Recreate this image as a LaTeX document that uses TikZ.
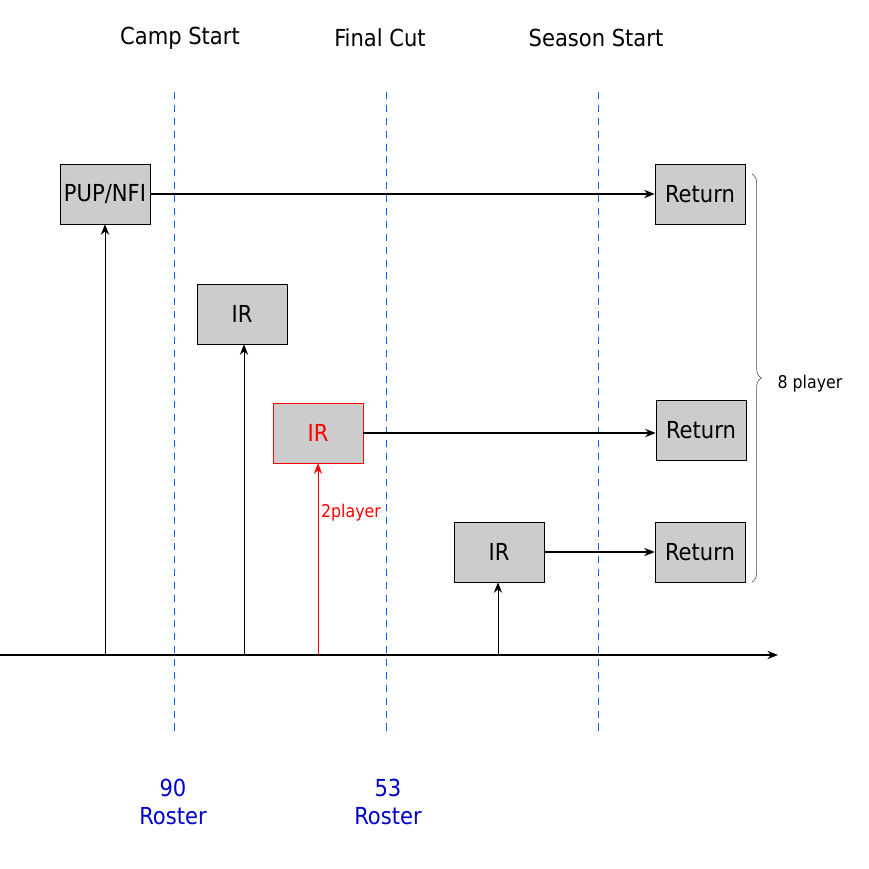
\documentclass[tikz,border=0pt]{standalone}
\usepackage{fontspec}
\setmainfont{DejaVu Sans Condensed}
\usetikzlibrary{arrows.meta,decorations.pathreplacing}
\begin{document}
\begin{tikzpicture}[x=0.03cm,y=-0.03cm,
  box/.style={draw,fill=black!20,minimum width=2.7cm,minimum height=1.8cm,inner sep=0pt,font=\fontsize{20}{22}\selectfont},
  bluedash/.style={draw=blue!60!cyan,line width=0.8pt,dash pattern=on 6pt off 5pt},
  arr/.style={-{Stealth[length=9pt,width=7pt]},line width=1pt},
  lbl/.style={font=\fontsize{20}{22}\selectfont},
  blab/.style={font=\fontsize{20}{24}\selectfont,text=blue!80!black,align=center}]
\useasboundingbox (0,0) rectangle (869,869);
\foreach \x in {174,386,598} \draw[bluedash] (\x,92) -- (\x,735);
\node[lbl] (t1) at (180,38) {Camp Start};
\node[lbl] (t2) at (380,38) {Final Cut};
\node[lbl] (t3) at (596,38) {Season Start};
\coordinate (a0) at (0,655); \coordinate (a1) at (778,655);
\draw[arr,line width=1.4pt] (a0) -- (a1);
\node[box] (pup) at (105,194) {PUP/NFI};
\node[box] (r1) at (700,194) {Return};
\node[box] (ir1) at (242,314) {IR};
\node[box,draw=red,text=red] (ir2) at (318,433) {IR};
\node[box] (r2) at (701,430) {Return};
\node[box] (ir3) at (499,552) {IR};
\node[box] (r3) at (700,552) {Return};
\coordinate (b1) at (105,655); \coordinate (b2) at (244,655);
\coordinate (b3) at (318,655); \coordinate (b4) at (498,655);
\draw[arr,line width=0.8pt] (b1) -- (pup.south);
\draw[arr,line width=0.8pt] (b2) -- (ir1.south -| b2);
\draw[arr,line width=0.8pt,red] (b3) -- (ir2.south);
\draw[arr,line width=0.8pt] (b4) -- (ir3.south -| b4);
\draw[arr,line width=1.4pt] (pup.east) -- (r1.west);
\draw[arr,line width=1.4pt] (ir2.east) -- (r2.west |- ir2.east);
\draw[arr,line width=1.4pt] (ir3.east) -- (r3.west);
\node[text=red,font=\fontsize{15}{17}\selectfont] (p2) at (351,513) {2player};
\coordinate (c1) at (752,174); \coordinate (c2) at (752,582);
\draw[decorate,decoration={brace,amplitude=8pt},line width=0.5pt,black!70] (c1) -- (c2);
\node[font=\fontsize{15}{17}\selectfont] (p8) at (810,384) {8 player};
\node[blab] (n90) at (173,802) {90\\Roster};
\node[blab] (n53) at (388,802) {53\\Roster};
\end{tikzpicture}
\end{document}
